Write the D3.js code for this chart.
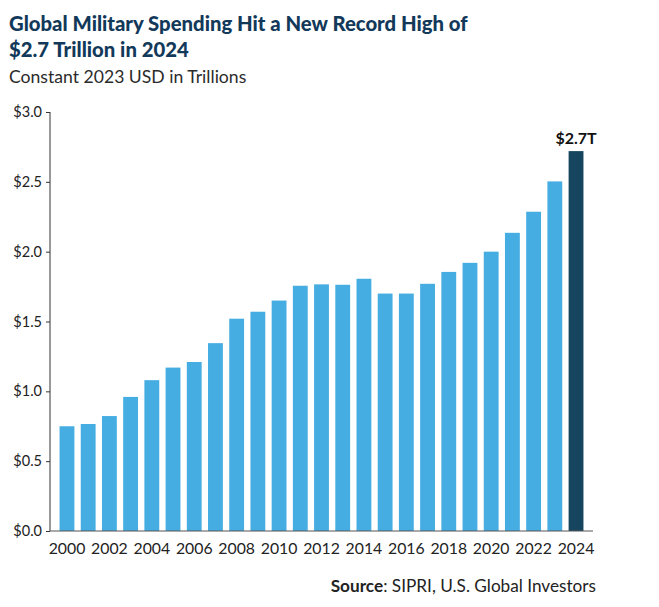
<!DOCTYPE html>
<html>
<head>
<meta charset="utf-8">
<script src="https://cdn.jsdelivr.net/npm/d3@7"></script>
<style>
  body { margin: 0; background: #fff; }
  svg text { font-family: "Lato", "Open Sans", sans-serif; }
</style>
</head>
<body>
<div id="chart"></div>
<script>
// data
var years = ["2000","2001","2002","2003","2004","2005","2006","2007","2008","2009","2010","2011","2012",
             "2013","2014","2015","2016","2017","2018","2019","2020","2021","2022","2023","2024"];
var spending = [0.75, 0.766, 0.823, 0.96, 1.08, 1.17, 1.21, 1.345, 1.52, 1.57, 1.65, 1.756, 1.766,
                1.763, 1.806, 1.70, 1.70, 1.77, 1.855, 1.92, 2.00, 2.135, 2.286, 2.503, 2.72];
var yTicks = [0, 0.5, 1.0, 1.5, 2.0, 2.5, 3.0];
var xTickYears = ["2000","2002","2004","2006","2008","2010","2012","2014","2016","2018","2020","2022","2024"];

var width = 659, height = 607;
var svg = d3.select('#chart')
  .append('svg')
  .attr('width', width)
  .attr('height', height);

var x = d3.scaleBand()
  .domain(years)
  .range([50, 593])
  .paddingInner(0.3)
  .paddingOuter(0.45);

var y = d3.scaleLinear()
  .domain([0, 3])
  .range([531, 112]);

// title + subtitle
svg.append('text').attr('x', 9).attr('y', 31)
  .attr('font-size', 20.3).attr('font-weight', 900).attr('fill', '#12395a')
  .text('Global Military Spending Hit a New Record High of');
svg.append('text').attr('x', 9).attr('y', 57)
  .attr('font-size', 20.3).attr('font-weight', 900).attr('fill', '#12395a')
  .text('$2.7 Trillion in 2024');
svg.append('text').attr('x', 9).attr('y', 83)
  .attr('font-size', 17.6).attr('fill', '#2b2b2b')
  .text('Constant 2023 USD in Trillions');

// bars
svg.selectAll('rect.bar')
  .data(spending)
  .enter()
  .append('rect')
  .attr('class', 'bar')
  .attr('x', function(d, i){ return x(years[i]); })
  .attr('y', function(d){ return y(d); })
  .attr('width', x.bandwidth())
  .attr('height', function(d){ return y(0) - y(d); })
  .attr('fill', function(d, i){ return i === years.length - 1 ? '#16465f' : '#46ade2'; });

// label on the last bar
var last = spending.length - 1;
svg.append('text')
  .attr('x', x(years[last]) + x.bandwidth() / 2)
  .attr('y', y(spending[last]) - 7)
  .attr('text-anchor', 'middle')
  .attr('font-size', 16).attr('font-weight', 700).attr('fill', '#111')
  .text('$' + d3.format('.1f')(spending[last]) + 'T');

// y axis
var yAxis = d3.axisLeft(y)
  .tickValues(yTicks)
  .tickSize(4)
  .tickPadding(4)
  .tickFormat(function(d){ return '$' + d3.format('.1f')(d); });
var gy = svg.append('g').attr('transform', 'translate(50,0)').call(yAxis);
gy.select('.domain').attr('stroke', '#333').attr('d', 'M0,' + y(3) + 'V' + y(0));
gy.selectAll('.tick line').attr('stroke', '#333');
gy.selectAll('.tick text').attr('font-size', 14.5).attr('fill', '#222')
  .attr('font-family', '"Lato", sans-serif');

// x axis
var xAxis = d3.axisBottom(x)
  .tickValues(xTickYears)
  .tickSize(0)
  .tickPadding(12);
var gx = svg.append('g').attr('transform', 'translate(0,' + y(0) + ')').call(xAxis);
gx.select('.domain').attr('stroke', '#555').attr('d', 'M50,0H593');
gx.selectAll('.tick text').attr('font-size', 15.8).attr('fill', '#222')
  .attr('font-family', '"Lato", sans-serif');

// source note
var src = svg.append('text').attr('x', 596).attr('y', 592)
  .attr('text-anchor', 'end').attr('font-size', 17.2).attr('fill', '#222');
src.append('tspan').attr('font-weight', 700).text('Source');
src.append('tspan').text(': SIPRI, U.S. Global Investors');
</script>
</body>
</html>
